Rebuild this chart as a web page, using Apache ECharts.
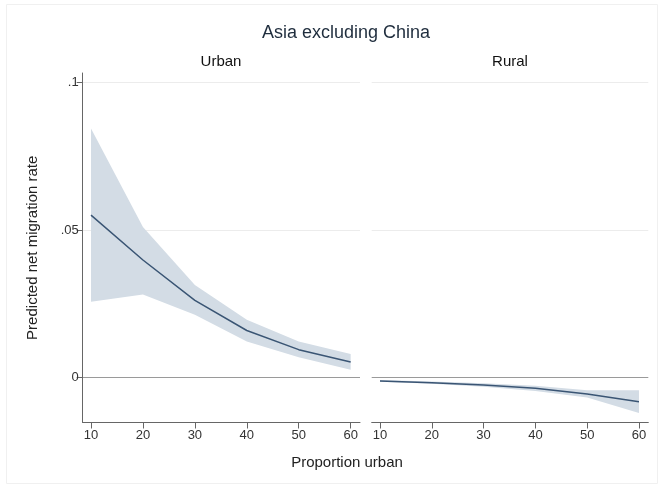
<!DOCTYPE html>
<html>
<head>
<meta charset="utf-8">
<script src="https://cdn.jsdelivr.net/npm/echarts@6/dist/echarts.min.js"></script>
<style>
  html, body { margin: 0; padding: 0; background: #fff; }
  #chart { width: 662px; height: 487px; }
</style>
</head>
<body>
<div id="chart"></div>
<script>
// proportion urban
var xValues = [10, 20, 30, 40, 50, 60];
var xTicks = [10, 20, 30, 40, 50, 60];
var yTicks = [0, 0.05, 0.1];
var yTickLabels = ['0', '.05', '.1'];

// Urban panel
var urbanMean  = [0.0551, 0.0399, 0.0262, 0.0160, 0.0095, 0.0053];
var urbanUpper = [0.0845, 0.0511, 0.0314, 0.0196, 0.0123, 0.0080];
var urbanLower = [0.0257, 0.0282, 0.0213, 0.0123, 0.0069, 0.0027];

// Rural panel
var ruralMean  = [-0.0011, -0.0017, -0.0025, -0.0036, -0.0055, -0.0082];
var ruralUpper = [-0.0008, -0.0013, -0.0019, -0.0027, -0.0043, -0.0043];
var ruralLower = [-0.0014, -0.0021, -0.0031, -0.0045, -0.0067, -0.0120];

var lineColor = '#3a5574';
var bandColor = '#d3dce5';
var font = "'Liberation Sans', Arial, sans-serif";

function pairs(vals) {
  return xValues.map(function (x, i) { return [x, vals[i]]; });
}

// CI band drawn as one polygon: upper points left->right, then lower right->left
function bandSeries(idx, up, lo) {
  var data = [];
  xValues.forEach(function (x, i) { data.push([x, up[i]]); });
  for (var i = xValues.length - 1; i >= 0; i--) data.push([xValues[i], lo[i]]);
  return {
    type: 'custom', xAxisIndex: idx, yAxisIndex: idx, silent: true,
    data: [0],
    renderItem: function (params, api) {
      return {
        type: 'polygon',
        shape: { points: data.map(function (p) { return api.coord(p); }) },
        style: { fill: bandColor }
      };
    },
    z: 1
  };
}

function panelSeries(idx, mean, up, lo) {
  return [bandSeries(idx, up, lo), {
    type: 'line', xAxisIndex: idx, yAxisIndex: idx,
    symbol: 'none', silent: true,
    lineStyle: { color: lineColor, width: 1.5 },
    data: pairs(mean),
    z: 5
  }];
}

function xAxisCfg(idx) {
  return {
    type: 'value', gridIndex: idx,
    min: 8.4, max: 61.8,
    axisLine: { show: true, onZero: false, lineStyle: { color: '#666', width: 1 } },
    axisTick: { show: true, length: 6, customValues: xTicks, lineStyle: { color: '#666' } },
    axisLabel: { customValues: xTicks, color: '#333', fontSize: 13, fontFamily: font, margin: 6 },
    splitLine: { show: false }
  };
}

function yAxisCfg(idx) {
  var left = idx === 0;
  return {
    type: 'value', gridIndex: idx,
    min: -0.0152, max: 0.1033,
    name: left ? 'Predicted net migration rate' : '',
    nameLocation: 'middle', nameRotate: 90, nameGap: 42,
    nameTextStyle: { color: '#222', fontSize: 15, fontFamily: font },
    axisLine: { show: left, lineStyle: { color: '#666', width: 1 } },
    axisTick: { show: left, length: 6, customValues: yTicks, lineStyle: { color: '#666' } },
    axisLabel: {
      show: left, customValues: yTicks, color: '#333', fontSize: 13, fontFamily: font, margin: 4,
      formatter: function (v) {
        var i = yTicks.indexOf(v);
        return i >= 0 ? yTickLabels[i] : '';
      }
    },
    splitLine: { show: true, lineStyle: { color: ['#9a9a9a', '#ececec', '#ececec'], width: 1 } }
  };
}

var chart = echarts.init(document.getElementById('chart'));
chart.setOption({
  animation: false,
  backgroundColor: '#fff',
  grid: [
    { left: 82.7, right: 302, top: 73, bottom: 64.5 },
    { left: 371.7, right: 13.7, top: 73, bottom: 64.5 }
  ],
  xAxis: [xAxisCfg(0), xAxisCfg(1)],
  yAxis: [yAxisCfg(0), yAxisCfg(1)],
  graphic: [
    { type: 'rect', shape: { x: 6.5, y: 4.5, width: 651, height: 479 }, style: { fill: 'none', stroke: '#f0f0f0' }, silent: true },
    { type: 'text', x: 346, y: 33, style: { text: 'Asia excluding China', fill: '#1f2d3d', font: '18px ' + font, textAlign: 'center', textVerticalAlign: 'middle' } },
    { type: 'text', x: 221, y: 62, style: { text: 'Urban', fill: '#111', font: '15px ' + font, textAlign: 'center', textVerticalAlign: 'middle' } },
    { type: 'text', x: 510, y: 62, style: { text: 'Rural', fill: '#111', font: '15px ' + font, textAlign: 'center', textVerticalAlign: 'middle' } },
    { type: 'text', x: 347, y: 463, style: { text: 'Proportion urban', fill: '#222', font: '15px ' + font, textAlign: 'center', textVerticalAlign: 'middle' } }
  ],
  series: panelSeries(0, urbanMean, urbanUpper, urbanLower)
    .concat(panelSeries(1, ruralMean, ruralUpper, ruralLower))
});
</script>
</body>
</html>
